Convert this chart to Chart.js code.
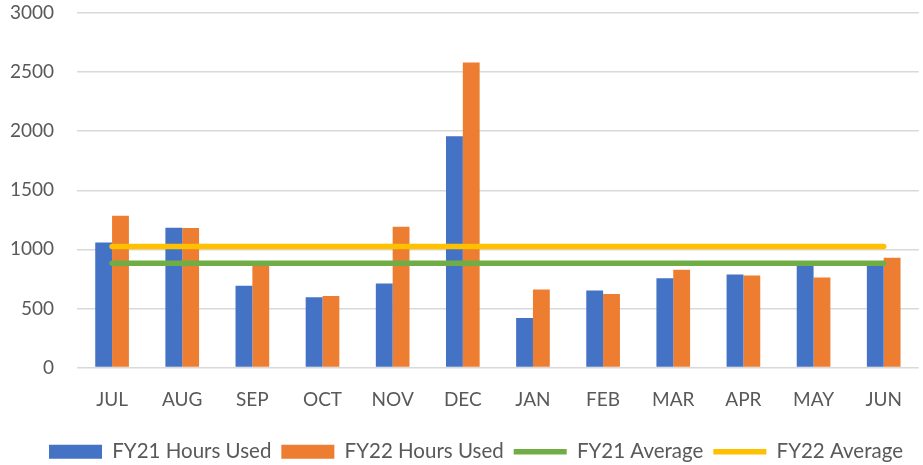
<!DOCTYPE html>
<html>
<head>
<meta charset="utf-8">
<script src="https://cdn.jsdelivr.net/npm/chart.js@4.4.0/dist/chart.umd.min.js"></script>
<style>
  html, body { margin: 0; padding: 0; background: #fff; }
  #wrap { width: 923px; height: 465px; }
</style>
</head>
<body>
<div id="wrap"><canvas id="chartHoras"></canvas></div>
<script>
// Datos
const meses = ['JUL', 'AUG', 'SEP', 'OCT', 'NOV', 'DEC', 'JAN', 'FEB', 'MAR', 'APR', 'MAY', 'JUN'];
const horasFY21 = [1058, 1183, 691, 594, 710, 1958, 419, 651, 756, 787, 890, 899];
const horasFY22 = [1285, 1180, 885, 606, 1192, 2581, 660, 623, 827, 778, 761, 929];
const promedioFY21 = [883, 883, 883, 883, 883, 883, 883, 883, 883, 883, 883, 883];
const promedioFY22 = [1025, 1025, 1025, 1025, 1025, 1025, 1025, 1025, 1025, 1025, 1025, 1025];
const ticksY = [0, 500, 1000, 1500, 2000, 2500, 3000];

const fuente = "Lato, 'Open Sans', sans-serif";
const gris = '#595959';

// Mover la leyenda un poco a la derecha, como en el original
const moverLeyenda = {
    id: 'moverLeyenda',
    afterLayout: function (chart) {
        if (chart.legend) {
            chart.legend.left += 15;
            chart.legend.right += 15;
        }
    }
};

const ctx = document.getElementById('chartHoras').getContext('2d');

new Chart(ctx, {
    type: 'bar',
    data: {
        labels: meses,
        datasets: [
            {
                label: 'FY21 Hours Used',
                data: horasFY21,
                backgroundColor: '#4472C4',
                borderWidth: 0,
                pointStyle: 'rect',
                order: 2
            },
            {
                label: 'FY22 Hours Used',
                data: horasFY22,
                backgroundColor: '#ED7D31',
                borderWidth: 0,
                pointStyle: 'rect',
                order: 2
            },
            {
                type: 'line',
                label: 'FY21 Average',
                data: promedioFY21,
                borderColor: '#70AD47',
                backgroundColor: '#70AD47',
                borderWidth: 5.5,
                borderCapStyle: 'round',
                pointRadius: 0,
                pointStyle: 'line',
                order: 1
            },
            {
                type: 'line',
                label: 'FY22 Average',
                data: promedioFY22,
                borderColor: '#FFC000',
                backgroundColor: '#FFC000',
                borderWidth: 5.5,
                borderCapStyle: 'round',
                pointRadius: 0,
                pointStyle: 'line',
                order: 0
            }
        ]
    },
    options: {
        responsive: true,
        maintainAspectRatio: false,
        animation: false,
        layout: {
            padding: { top: 2, right: 1, left: 0, bottom: -7 }
        },
        datasets: {
            bar: {
                categoryPercentage: 0.48,
                barPercentage: 1
            }
        },
        scales: {
            x: {
                afterFit: function (scale) {
                    scale.height = 64;
                },
                grid: { display: false, drawTicks: false },
                border: { display: false },
                ticks: {
                    color: gris,
                    font: { family: fuente, size: 19 },
                    padding: 21
                }
            },
            y: {
                min: 0,
                max: 3000,
                afterBuildTicks: function (scale) {
                    scale.ticks = ticksY.map(v => ({ value: v }));
                },
                afterFit: function (scale) {
                    scale.width = 77; // ancho fijo del eje
                    scale.paddingTop = 13;
                    scale.paddingBottom = 0;
                },
                grid: {
                    color: '#D9D9D9',
                    lineWidth: 1.5,
                    drawTicks: false
                },
                border: { display: false },
                ticks: {
                    color: gris,
                    font: { family: fuente, size: 19 },
                    padding: 23,
                    callback: function (value) {
                        return String(value); // sin separador de miles
                    }
                }
            }
        },
        plugins: {
            legend: {
                display: true,
                position: 'bottom',
                labels: {
                    usePointStyle: true,
                    pointStyleWidth: 53,
                    boxHeight: 14,
                    padding: 10,
                    color: gris,
                    font: { family: fuente, size: 20.5 },
                    sort: function (a, b) {
                        return a.datasetIndex - b.datasetIndex;
                    }
                }
            },
            tooltip: { enabled: false }
        }
    },
    plugins: [moverLeyenda]
});
</script>
</body>
</html>
